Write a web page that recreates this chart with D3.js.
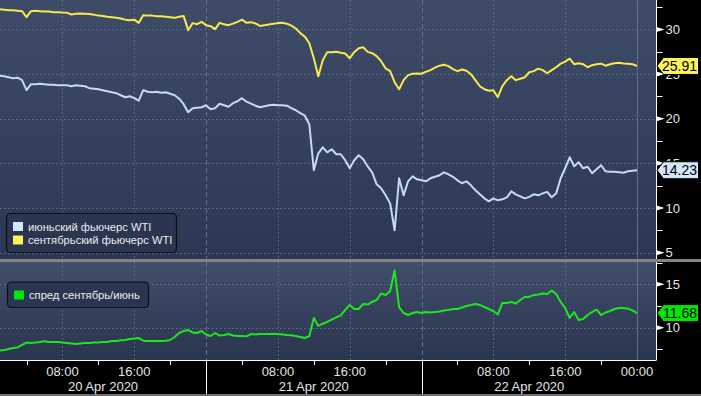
<!DOCTYPE html>
<html><head><meta charset="utf-8">
<script src="https://cdn.jsdelivr.net/npm/d3@7"></script>
<style>
html,body{margin:0;padding:0;background:#000;}
svg{display:block;}
text{font-family:"Liberation Sans",Arial,sans-serif;}
</style></head><body>
<svg id="chart" width="701" height="396"></svg>
<script>
// ---------- DATA (30-minute samples starting 20 Apr 2020 01:00) ----------
const startTime = new Date(2020, 3, 20, 1, 0);
const endTime = new Date(2020, 3, 23, 0, 0);
const stepMinutes = 30;

const septWTI = [
32.28,32.22,32.16,32.16,32.10,32.05,31.38,32.05,32.10,32.05,
32.00,32.00,31.94,31.94,31.90,31.88,31.68,31.77,31.79,31.77,
31.72,31.66,31.55,31.52,31.43,31.38,31.32,31.23,31.10,31.04,
31.10,30.74,31.60,31.55,31.55,31.49,31.49,31.43,31.38,31.30,
31.43,31.52,29.92,30.71,30.59,30.85,30.48,30.37,30.03,30.74,
30.59,30.48,30.65,30.85,31.10,30.74,30.82,30.67,30.40,30.48,
30.56,30.65,30.71,30.74,30.65,30.43,30.11,29.59,29.19,28.46,
26.78,24.76,26.56,27.46,27.46,27.51,27.40,27.31,26.78,27.46,
27.90,28.01,27.49,27.34,27.01,26.45,25.63,25.33,24.09,23.30,
24.32,24.88,25.04,25.07,25.04,25.27,25.44,25.72,25.94,26.05,
25.89,25.55,25.33,25.52,25.38,24.99,24.32,23.64,23.31,23.14,
23.20,22.41,23.64,24.32,24.76,24.32,24.48,24.65,25.21,25.33,
25.61,25.44,25.10,25.44,25.77,26.17,26.39,26.73,26.11,26.22,
26.11,25.77,26.00,26.11,26.17,25.94,26.11,26.22,26.26,26.19,
26.17,26.11,25.91];

const juneWTI = [
24.82,24.76,24.65,24.54,24.60,24.32,23.20,23.87,23.87,23.92,
23.87,23.81,23.81,23.76,23.76,23.76,23.64,23.76,23.70,23.64,
23.42,23.36,23.31,23.20,23.08,22.97,22.86,22.63,22.41,22.52,
22.30,22.02,23.20,23.03,22.97,23.03,22.92,22.97,22.80,22.63,
22.24,21.63,20.73,21.18,21.23,21.29,21.51,21.07,21.18,21.68,
21.51,21.35,21.74,21.96,22.30,21.91,21.70,21.46,21.29,21.40,
21.51,21.57,21.51,21.51,21.46,21.18,20.95,20.62,20.34,19.38,
14.23,16.13,16.80,16.24,16.58,16.02,16.02,15.35,14.45,15.35,
15.91,15.46,14.67,14.00,12.65,12.21,11.42,10.52,7.50,13.33,
11.42,12.99,13.55,13.21,13.10,12.99,13.33,13.50,13.67,14.00,
13.78,13.50,13.10,12.77,12.99,12.54,11.98,11.53,11.08,10.75,
11.08,10.86,10.97,11.20,11.87,11.53,11.31,11.08,11.25,11.53,
11.42,11.64,11.81,11.20,11.64,13.33,14.45,15.68,14.67,15.12,
14.45,14.62,13.89,14.34,14.79,14.11,14.06,14.06,14.00,13.95,
14.11,14.17,14.23];

const spread = [
7.37,7.43,7.55,7.66,7.72,8.01,8.29,8.24,8.29,8.35,
8.43,8.35,8.35,8.35,8.29,8.24,8.18,8.12,8.18,8.24,
8.24,8.29,8.29,8.35,8.35,8.47,8.47,8.55,8.58,8.70,
8.76,8.81,8.50,8.47,8.47,8.47,8.47,8.50,8.58,8.93,
9.39,9.62,9.73,9.45,9.39,9.62,9.22,9.04,9.39,9.10,
9.16,9.27,9.10,9.04,9.04,9.01,9.27,9.22,9.27,9.27,
9.27,9.31,9.27,9.22,9.16,9.12,9.04,8.93,8.81,9.04,
11.12,10.20,10.46,10.66,10.94,11.18,11.43,12.04,12.62,12.15,
12.15,12.73,12.67,12.96,13.19,13.94,13.77,14.23,16.59,12.38,
11.69,11.46,11.69,11.81,11.69,11.81,11.75,11.81,11.87,11.98,
12.04,12.15,12.15,12.33,12.50,12.62,12.73,12.62,12.38,12.15,
11.92,11.52,12.85,12.85,12.96,12.79,13.19,13.54,13.54,13.77,
13.82,13.94,13.88,14.29,13.88,12.96,12.27,11.12,11.81,10.89,
11.00,11.46,11.81,12.07,11.46,11.75,11.92,12.15,12.27,12.27,
12.19,12.00,11.68];

const topTicks = [5, 10, 15, 20, 25, 30];
const topMinorTicks = [7.5, 12.5, 17.5, 22.5, 27.5, 32.5];
const bottomTicks = [10, 15];
const bottomMinorTicks = [7.5, 12.5, 17.5];
const dayLabels = ["20 Apr 2020", "21 Apr 2020", "22 Apr 2020"];
const topLegend = ["июньский фьючерс WTI", "сентябрьский фьючерс WTI"];
const bottomLegend = ["спред сентябрь/июнь"];

const colors = {june: "#c2dbf7", sept: "#f8ea4c", spread: "#1ee61e",
  juneBox: "#d3e6fc", septBox: "#fff35a", spreadBox: "#00e800"};

// ---------- LAYOUT ----------
const svg = d3.select("#chart");
const W = 701, H = 396;
const axisX = 656.5;
const topP = {y0: 0, y1: 259};
const botP = {y0: 262, y1: 360};

const x = d3.scaleTime().domain([startTime, endTime]).range([-0.4, 637]);
const yTop = d3.scaleLinear().domain([4.4, 33.3]).range([258, 0]);
const yBot = d3.scaleLinear().domain([6.28, 17.45]).range([360, 263]);

const times = septWTI.map((_, i) => new Date(startTime.getTime() + i * stepMinutes * 60000));

const defs = svg.append("defs");
function grad(id, c0, c1) {
  const g = defs.append("linearGradient").attr("id", id).attr("x1", 0).attr("y1", 0).attr("x2", 0).attr("y2", 1);
  g.append("stop").attr("offset", "0%").attr("stop-color", c0);
  g.append("stop").attr("offset", "100%").attr("stop-color", c1);
}
grad("gTop", "#3f4c68", "#2c3853");
grad("gBot", "#414e6a", "#2a354f");
defs.append("clipPath").attr("id", "clipTop").append("rect").attr("x", 0).attr("y", topP.y0).attr("width", axisX).attr("height", topP.y1 - topP.y0);
defs.append("clipPath").attr("id", "clipBot").append("rect").attr("x", 0).attr("y", botP.y0).attr("width", axisX).attr("height", botP.y1 - botP.y0);

svg.append("rect").attr("width", W).attr("height", H).attr("fill", "#000");
svg.append("rect").attr("x", 0).attr("y", topP.y0).attr("width", axisX).attr("height", topP.y1 - topP.y0).attr("fill", "url(#gTop)");
svg.append("rect").attr("x", 0).attr("y", botP.y0).attr("width", axisX).attr("height", botP.y1 - botP.y0).attr("fill", "url(#gBot)");
svg.append("rect").attr("x", 0).attr("y", topP.y1).attr("width", W).attr("height", botP.y0 - topP.y1).attr("fill", "#838383");
svg.append("rect").attr("x", 0).attr("y", 394).attr("width", W).attr("height", 2).attr("fill", "#6e6e6e");

// ---------- GRID ----------
const gridColor = "#5f6f8c";
const gridTimes = d3.timeHour.every(8).range(new Date(2020,3,20,8), new Date(2020,3,23,0,1));
[[topP, yTop, topTicks], [botP, yBot, bottomTicks]].forEach(([p, ys, ticks]) => {
  const g = svg.append("g");
  g.selectAll("line.h").data(ticks).join("line")
    .attr("x1", 0).attr("x2", axisX).attr("y1", d => Math.round(ys(d)) + 0.5).attr("y2", d => Math.round(ys(d)) + 0.5)
    .attr("stroke", gridColor).attr("stroke-width", 1).attr("stroke-dasharray", "1.5,2.5");
  g.selectAll("line.v").data(gridTimes).join("line")
    .attr("x1", d => Math.round(x(d)) + 0.5).attr("x2", d => Math.round(x(d)) + 0.5)
    .attr("y1", p.y0).attr("y2", p.y1)
    .attr("stroke", gridColor).attr("stroke-width", 1)
    .attr("stroke-dasharray", d => {
      if (d.getTime() === endTime.getTime()) return null;
      return d.getHours() === 0 ? "5,3" : "1.5,2.5";
    });
});

// ---------- LINES ----------
const lineTop = d3.line().x((d, i) => x(times[i])).y(d => yTop(d));
const lineBot = d3.line().x((d, i) => x(times[i])).y(d => yBot(d));
svg.append("path").datum(juneWTI).attr("d", lineTop).attr("fill", "none").attr("stroke", colors.june)
  .attr("stroke-width", 2).attr("stroke-linejoin", "round").attr("clip-path", "url(#clipTop)");
svg.append("path").datum(septWTI).attr("d", lineTop).attr("fill", "none").attr("stroke", colors.sept)
  .attr("stroke-width", 2).attr("stroke-linejoin", "round").attr("clip-path", "url(#clipTop)");
svg.append("path").datum(spread).attr("d", lineBot).attr("fill", "none").attr("stroke", colors.spread)
  .attr("stroke-width", 2).attr("stroke-linejoin", "round").attr("clip-path", "url(#clipBot)");

// ---------- RIGHT AXES ----------
const labelColor = "#e4e4e4";
function rightAxis(p, ys, major, minor) {
  const g = svg.append("g");
  g.append("line").attr("x1", axisX).attr("x2", axisX).attr("y1", p.y0).attr("y2", p.y1)
    .attr("stroke", "#fff").attr("stroke-width", 1);
  g.selectAll("line.m").data(minor.filter(v => ys(v) >= p.y0 - 1 && ys(v) <= p.y1)).join("line")
    .attr("x1", axisX).attr("x2", axisX + 6).attr("y1", d => Math.round(ys(d)) + 0.5).attr("y2", d => Math.round(ys(d)) + 0.5)
    .attr("stroke", "#fff").attr("stroke-width", 1);
  g.selectAll("path.t").data(major).join("path")
    .attr("d", d => { const yy = ys(d); return `M${axisX},${yy - 2.5}L${axisX + 8},${yy}L${axisX},${yy + 2.5}Z`; })
    .attr("fill", "#fff");
  g.selectAll("text").data(major).join("text")
    .attr("x", axisX + 9).attr("y", d => ys(d)).attr("dy", "0.36em")
    .attr("fill", labelColor).attr("font-size", 13).text(d => d);
}
rightAxis(topP, yTop, topTicks, topMinorTicks);
rightAxis(botP, yBot, bottomTicks, bottomMinorTicks);

// ---------- BOTTOM TIME AXIS ----------
svg.append("line").attr("x1", 0).attr("x2", axisX).attr("y1", 360.5).attr("y2", 360.5).attr("stroke", "#fff");
const minorTimes = d3.timeHour.every(4).range(new Date(2020,3,20,2), new Date(2020,3,23,0)).filter(d => d.getHours() % 8 === 4);
svg.selectAll("line.xm").data(minorTimes).join("line")
  .attr("x1", d => Math.round(x(d)) + 0.5).attr("x2", d => Math.round(x(d)) + 0.5).attr("y1", 360).attr("y2", 365)
  .attr("stroke", "#fff");
const dayBounds = gridTimes.filter(d => d.getHours() === 0 && d.getTime() < endTime.getTime());
svg.selectAll("line.xd").data(dayBounds).join("line")
  .attr("x1", d => Math.round(x(d)) + 0.5).attr("x2", d => Math.round(x(d)) + 0.5).attr("y1", 360).attr("y2", 394)
  .attr("stroke", "#fff");
const fmt = d3.timeFormat("%H:%M");
svg.selectAll("text.xl").data(gridTimes.filter(d => d.getHours() !== 0 || d.getTime() === endTime.getTime())).join("text")
  .attr("x", d => x(d)).attr("y", 375.5).attr("text-anchor", "middle")
  .attr("fill", labelColor).attr("font-size", 13).text(d => fmt(d));
const dayEdges = [0, ...dayBounds.map(d => x(d)), x(endTime)];
svg.selectAll("text.dl").data(dayLabels).join("text")
  .attr("x", (d, i) => (dayEdges[i] + dayEdges[i + 1]) / 2).attr("y", 390.5).attr("text-anchor", "middle")
  .attr("fill", labelColor).attr("font-size", 13).text(d => d);

// ---------- VALUE TAGS ----------
function tag(yy, val, fill) {
  const h = 8.5;
  svg.append("path")
    .attr("d", `M${axisX + 0.5},${yy}L${axisX + 7},${yy - h}L${W - 2.5},${yy - h}L${W - 2.5},${yy + h}L${axisX + 7},${yy + h}Z`)
    .attr("fill", fill).attr("stroke", "#000").attr("stroke-width", 1);
  svg.append("text").attr("x", W - 4).attr("y", yy).attr("dy", "0.36em").attr("text-anchor", "end")
    .attr("font-size", 14).attr("fill", "#000").text(val.toFixed(2));
}
tag(yTop(septWTI[septWTI.length - 1]), septWTI[septWTI.length - 1], colors.septBox);
tag(yTop(juneWTI[juneWTI.length - 1]), juneWTI[juneWTI.length - 1], colors.juneBox);
tag(yBot(spread[spread.length - 1]), spread[spread.length - 1], colors.spreadBox);

// ---------- LEGENDS ----------
function legend(x0, y0, w, h, items, cols) {
  const g = svg.append("g");
  g.append("rect").attr("x", x0 + 0.5).attr("y", y0 + 0.5).attr("width", w).attr("height", h).attr("rx", 4)
    .attr("fill", "#2a3550").attr("stroke", "#0b0f18").attr("stroke-width", 1.2);
  items.forEach((t, i) => {
    const yy = y0 + 9 + i * 13.5;
    g.append("rect").attr("x", x0 + 7).attr("y", yy).attr("width", 10).attr("height", 9).attr("fill", cols[i]);
    g.append("text").attr("x", x0 + 22).attr("y", yy + 4.5).attr("dy", "0.36em")
      .attr("fill", "#ececec").attr("font-size", 11.2).text(t);
  });
}
legend(6, 213, 170, 39, topLegend, [colors.juneBox, colors.septBox]);
legend(7, 281.5, 141, 25.5, bottomLegend, [colors.spreadBox]);
</script>
</body></html>
